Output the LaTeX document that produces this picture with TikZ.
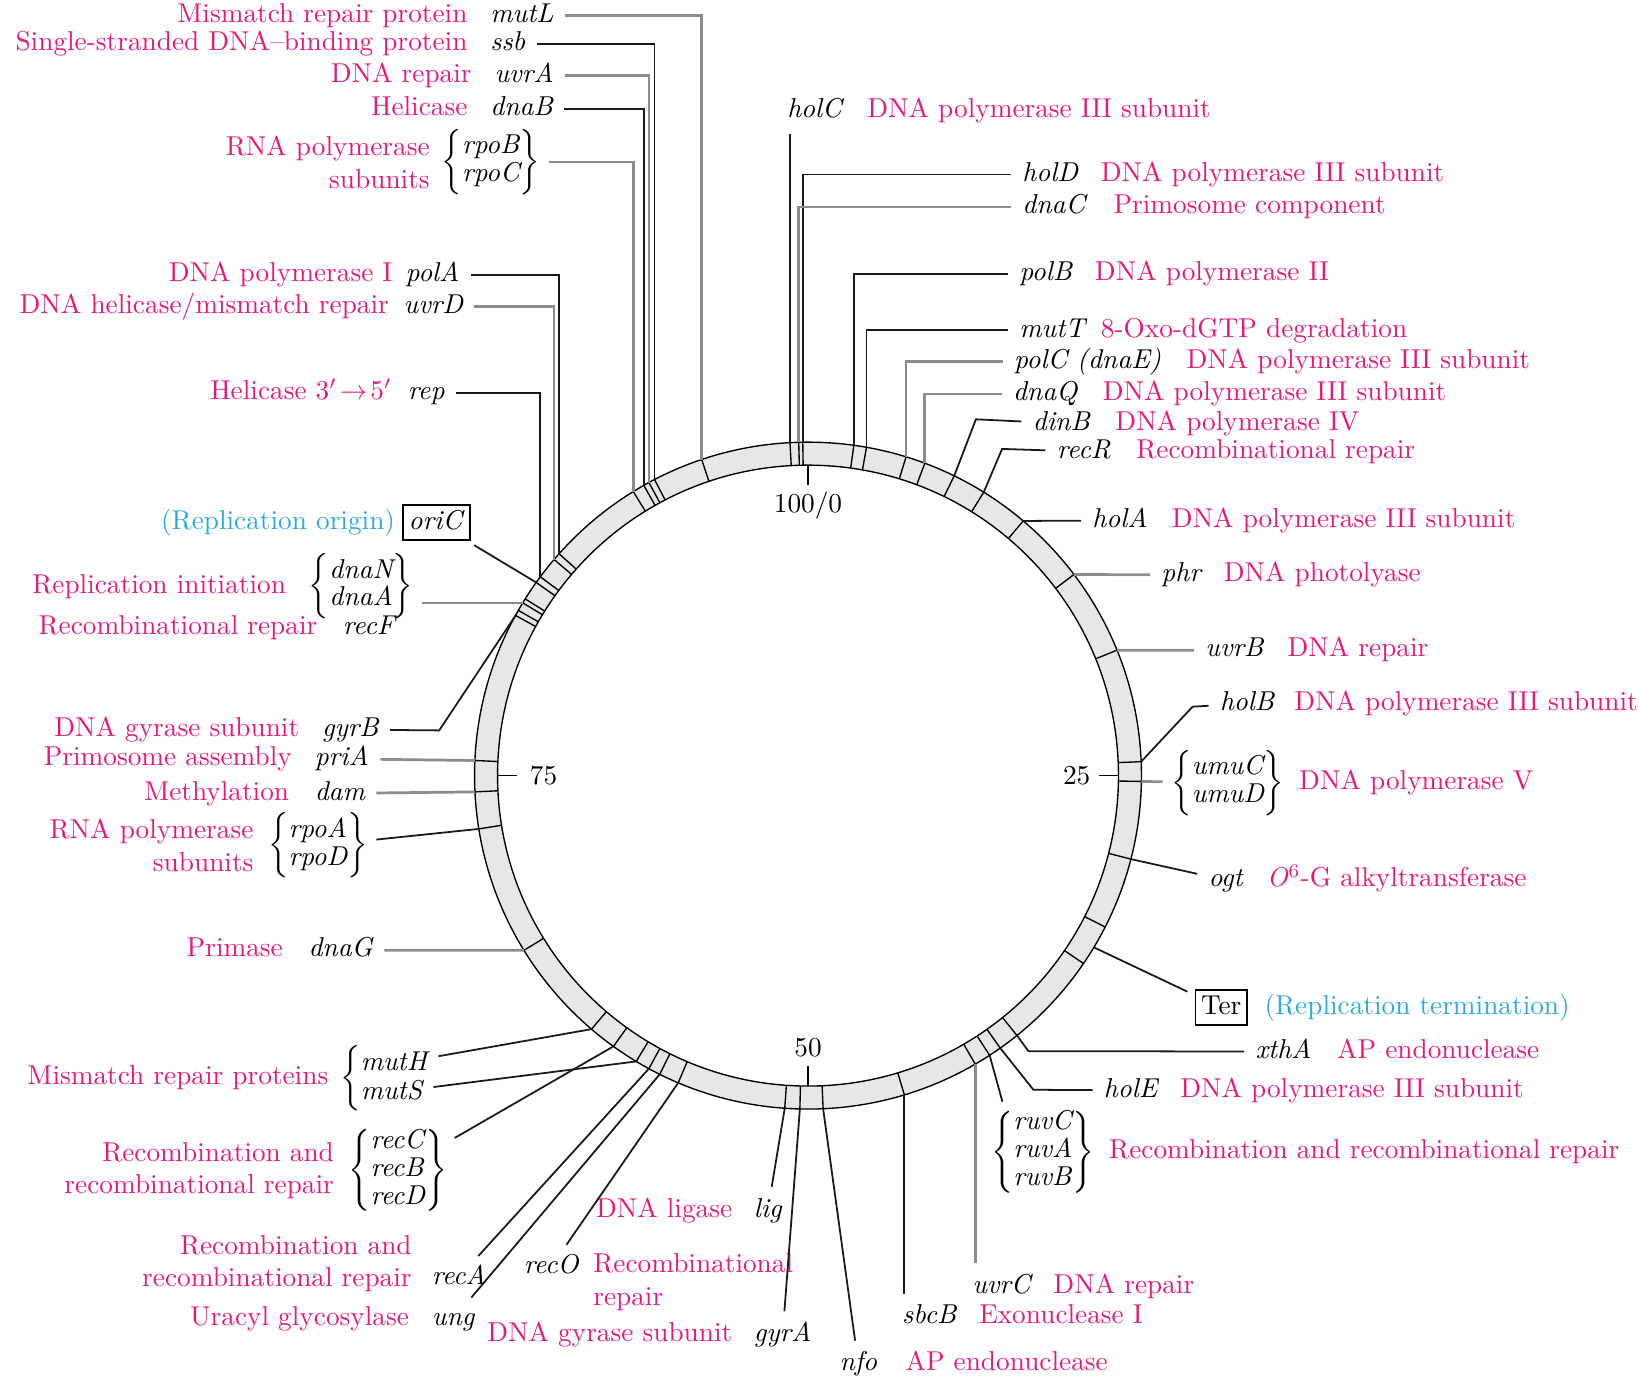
\documentclass[tikz,border=0pt]{standalone}
\usepackage{amsmath,amssymb}
\usepackage{tikz}
\usetikzlibrary{positioning}

\definecolor{genepink}{RGB}{233,22,123}
\definecolor{oricyan}{RGB}{41,170,225}
\definecolor{ringgray}{RGB}{230,231,232}
\renewcommand{\arraystretch}{0.85}
\newcommand{\genelist}[1]{$\left\{\begin{array}{@{}l@{}}#1\end{array}\right\}$}

\begin{document}
\begin{tikzpicture}[x=0.383pt, y=-0.383pt,
    gene/.style={font=\itshape, inner sep=1pt, text height=1.6ex, text depth=.45ex},
    desc/.style={text=genepink, inner sep=1pt, text height=1.6ex, text depth=.45ex},
    desctwo/.style={text=genepink, inner sep=1pt, align=right},
    note/.style={text=oricyan, inner sep=1pt, text height=1.6ex, text depth=.45ex},
    glist/.style={inner sep=0pt},
    site/.style={draw, line width=0.6pt, inner sep=2pt, text height=1.6ex, text depth=.45ex},
    cut/.style={line width=0.5pt},
    lead/.style={line width=0.65pt, black!90, shorten >=3pt},
    leadg/.style={line width=1pt, black!45, shorten >=3pt}]
  \useasboundingbox (0,0) rectangle (1568,1323);

  % chromosome ring
  \coordinate (c) at (773,742);
  \begin{scope}[shift={(c)}]
    \fill[ringgray, even odd rule] (0,0) circle[radius=319] (0,0) circle[radius=297];
    \draw[cut] (0,0) circle[radius=319] (0,0) circle[radius=297];
    % map minutes
    \foreach \a in {-90,0,90,180}
      \draw[cut] (\a:297) -- (\a:278);
    \node (m0) at (-90:258) {100/0};
    \node (m25) at (0:257) {25};
    \node (m50) at (90:260) {50};
    \node (m75) at (180:253) {75};
    % gene sites
    \foreach \g/\a in {mutL/-108.6, ssb/-117.4, uvrA/-118.5, dnaB/-119.5, rpoBC/-121.6,
        polA/-138.3, uvrD/-139.6, rep/-143.4, oriC/-144.6, dnaN/-148.0, dnaA/-148.8,
        recF/-150.3, gyrB/-151.3, priA/-177.4, dam/-182.8, rpoAD/-189.2, dnaG/-211.6,
        mutH/-229.5, recCBD/-234.3, mutS/-239.0, recA/-241.5, ung/-243.6, recO/-247.1,
        lig/-266.0, gyrA/-268.6, nfo/87.4, sbcB/73.2, uvrC/59.9, ruv/57.0, holE/54.8,
        xthA/51.2, ogt/14.5, umu/1.0, holB/-2.4, uvrB/-22.1, phr/-37.1, holA/-49.8,
        recR/-58.2, dinB/-64.0, dnaQ/-69.5, polC/-72.9, mutT/-79.9, polB/-82.1,
        holD/-90.9, dnaC/-91.6, holC/-93.1} {
      \draw[cut] (\a:297) -- (\a:319);
      \coordinate (r-\g) at (\a:319);
    }
    % terminus region
    \draw[cut] (27:297) -- (27:319);
    \draw[cut] (34.3:297) -- (34.3:319);
    \coordinate (r-Ter) at (31:319);
  \end{scope}

  % left, top
  \node[gene, anchor=west] (g-mutL) at (466,15) {mutL};
  \node[desc, left=6pt of g-mutL] (d-mutL) {Mismatch repair protein};
  \node[gene, anchor=west] (g-ssb) at (466,42) {ssb};
  \node[desc, anchor=east] (d-ssb) at (d-mutL.east |- g-ssb) {Single-stranded DNA--binding protein};
  \node[gene, anchor=west] (g-uvrA) at (470,72) {uvrA};
  \node[desc, left=6pt of g-uvrA] (d-uvrA) {DNA repair};
  \node[gene, anchor=west] (g-dnaB) at (466,104) {dnaB};
  \node[desc, left=6pt of g-dnaB] (d-dnaB) {Helicase};
  \node[glist, anchor=west] (g-rpoBC) at (422,155) {\genelist{\textit{rpoB}\\\textit{rpoC}}};
  \node[desctwo, left=3pt of g-rpoBC] (d-rpoBC) {RNA polymerase\\subunits};

  \node[gene, anchor=west] (g-polA) at (385,263) {polA};
  \node[desc, left=2.5pt of g-polA] (d-polA) {DNA polymerase I};
  \node[gene, anchor=west] (g-uvrD) at (383,293) {uvrD};
  \node[desc, left=3pt of g-uvrD] (d-uvrD) {DNA helicase/mismatch repair};
  \node[gene, anchor=west] (g-rep) at (387,376) {rep};
  \node[desc, left=3.5pt of g-rep] (d-rep) {Helicase $3'\!\rightarrow\!5'$};

  % left, origin region
  \node[site, anchor=west] (g-oriC) at (385,500) {\textit{oriC}};
  \node[note, left=1.5pt of g-oriC] (d-oriC) {(Replication origin)};
  \node[glist, anchor=west] (g-dnaNA) at (295,561) {\genelist{\textit{dnaN}\\\textit{dnaA}}};
  \node[desc, left=7pt of g-dnaNA] (d-dnaNA) {Replication initiation};
  \node[gene, anchor=west] (g-recF) at (325,601) {recF};
  \node[desc, left=7pt of g-recF] (d-recF) {Recombinational repair};
  \node[gene, anchor=west] (g-gyrB) at (305,698) {gyrB};
  \node[desc, left=6pt of g-gyrB] (d-gyrB) {DNA gyrase subunit};
  \node[gene, anchor=west] (g-priA) at (298,726) {priA};
  \node[desc, left=6pt of g-priA] (d-priA) {Primosome assembly};
  \node[gene, anchor=west] (g-dam) at (298,759) {dam};
  \node[desc, left=7pt of g-dam] (d-dam) {Methylation};
  \node[glist, anchor=west] (g-rpoAD) at (256,809) {\genelist{\textit{rpoA}\\\textit{rpoD}}};
  \node[desctwo, left=4pt of g-rpoAD] (d-rpoAD) {RNA polymerase\\subunits};
  \node[gene, anchor=west] (g-dnaG) at (292,909) {dnaG};
  \node[desc, left=7pt of g-dnaG] (d-dnaG) {Primase};

  % left, bottom
  \node[glist, anchor=west] (b-mutHS) at (325,1031) {$\left\{\vphantom{\begin{array}{c}X\\X\end{array}}\right.$};
  \node[desc, left=3pt of b-mutHS] (d-mutHS) {Mismatch repair proteins};
  \node[gene, anchor=west] (g-mutH) at (342,1018) {mutH};
  \node[gene, anchor=west] (g-mutS) at (342,1045) {mutS};
  \node[glist, anchor=west] (g-recCBD) at (333,1120) {\genelist{\textit{recC}\\\textit{recB}\\\textit{recD}}};
  \node[desctwo, left=4pt of g-recCBD] (d-recCBD) {Recombination and\\recombinational repair};
  \node[gene, anchor=west] (g-recA) at (410,1222) {recA};
  \node[desctwo, left=5pt of g-recA, yshift=5pt] (d-recA) {Recombination and\\recombinational repair};
  \node[gene, anchor=west] (g-ung) at (410,1262) {ung};
  \node[desc, left=6pt of g-ung] (d-ung) {Uracyl glycosylase};
  \node[gene, anchor=west] (g-recO) at (498,1212) {recO};
  \node[desctwo, align=left, right=3pt of g-recO, yshift=-5.5pt] (d-recO) {Recombinational\\repair};
  \node[gene, anchor=west] (g-lig) at (718,1158) {lig};
  \node[desc, left=5.5pt of g-lig] (d-lig) {DNA ligase};
  \node[gene, anchor=west] (g-gyrA) at (718,1277) {gyrA};
  \node[desc, left=5.5pt of g-gyrA] (d-gyrA) {DNA gyrase subunit};
  \node[gene, anchor=west] (g-nfo) at (800,1305) {nfo};
  \node[desc, right=8pt of g-nfo] (d-nfo) {AP endonuclease};

  % right, top
  \node[gene, anchor=west] (g-holC) at (750,106) {holC};
  \node[desc, right=7pt of g-holC] (d-holC) {DNA polymerase III subunit};
  \node[gene, anchor=west] (g-holD) at (975,167) {holD};
  \node[desc, right=6pt of g-holD] (d-holD) {DNA polymerase III subunit};
  \node[gene, anchor=west] (g-dnaC) at (975,198) {dnaC};
  \node[desc, right=8pt of g-dnaC] (d-dnaC) {Primosome component};
  \node[gene, anchor=west] (g-polB) at (972,262) {polB};
  \node[desc, right=6pt of g-polB] (d-polB) {DNA polymerase II};
  \node[gene, anchor=west] (g-mutT) at (972,316) {mutT};
  \node[desc, right=3.5pt of g-mutT] (d-mutT) {8-Oxo-dGTP degradation};
  \node[gene, anchor=west] (g-polC) at (967,346) {polC (dnaE)};
  \node[desc, right=7pt of g-polC] (d-polC) {DNA polymerase III subunit};
  \node[gene, anchor=west] (g-dnaQ) at (966,377) {dnaQ};
  \node[desc, right=7pt of g-dnaQ] (d-dnaQ) {DNA polymerase III subunit};
  \node[gene, anchor=west] (g-dinB) at (985,405) {dinB};
  \node[desc, right=7pt of g-dinB] (d-dinB) {DNA polymerase IV};
  \node[gene, anchor=west] (g-recR) at (1008,432) {recR};
  \node[desc, right=7pt of g-recR] (d-recR) {Recombinational repair};

  % right, middle
  \node[gene, anchor=west] (g-holA) at (1042,498) {holA};
  \node[desc, right=6.5pt of g-holA] (d-holA) {DNA polymerase III subunit};
  \node[gene, anchor=west] (g-phr) at (1108,550) {phr};
  \node[desc, right=6pt of g-phr] (d-phr) {DNA photolyase};
  \node[gene, anchor=west] (g-uvrB) at (1150,622) {uvrB};
  \node[desc, right=6.5pt of g-uvrB] (d-uvrB) {DNA repair};
  \node[gene, anchor=west] (g-holB) at (1164,673) {holB};
  \node[desc, right=5pt of g-holB] (d-holB) {DNA polymerase III subunit};
  \node[glist, anchor=west] (g-umu) at (1120,749) {\genelist{\textit{umuC}\\\textit{umuD}}};
  \node[desc, right=4pt of g-umu] (d-umu) {DNA polymerase V};
  \node[gene, anchor=west] (g-ogt) at (1153,842) {ogt};
  \node[desc, right=6.5pt of g-ogt] (d-ogt) {\textit{O}\textsuperscript{6}-G alkyltransferase};

  % right, bottom
  \node[site, anchor=west] (g-Ter) at (1143,964) {Ter};
  \node[note, right=5pt of g-Ter] (d-Ter) {(Replication termination)};
  \node[gene, anchor=west] (g-xthA) at (1198,1006) {xthA};
  \node[desc, right=7pt of g-xthA] (d-xthA) {AP endonuclease};
  \node[gene, anchor=west] (g-holE) at (1053,1043) {holE};
  \node[desc, right=6pt of g-holE] (d-holE) {DNA polymerase III subunit};
  \node[glist, anchor=west] (g-ruv) at (948,1102) {\genelist{\textit{ruvC}\\\textit{ruvA}\\\textit{ruvB}}};
  \node[desc, right=4pt of g-ruv] (d-ruv) {Recombination and recombinational repair};
  \node[gene, anchor=west] (g-uvrC) at (927,1231) {uvrC};
  \node[desc, right=6pt of g-uvrC] (d-uvrC) {DNA repair};
  \node[gene, anchor=west] (g-sbcB) at (860,1260) {sbcB};
  \node[desc, right=6pt of g-sbcB] (d-sbcB) {Exonuclease I};

  % leaders, left
  \draw[leadg] (r-mutL) |- (g-mutL);
  \draw[lead] (r-ssb) |- (g-ssb);
  \draw[leadg] (r-uvrA) |- (g-uvrA);
  \draw[lead] (r-dnaB) |- (g-dnaB);
  \draw[leadg] (r-rpoBC) |- (g-rpoBC);
  \draw[lead] (r-polA) |- (g-polA);
  \draw[leadg] (r-uvrD) |- (g-uvrD);
  \draw[lead] (r-rep) |- (g-rep);
  \draw[lead] (r-oriC) -- (g-oriC);
  \draw[leadg] (r-dnaA) -- (r-dnaA -| g-dnaNA.east);
  \draw[lead] (r-gyrB) -- ++(123.6:132) -- (g-gyrB);
  \draw[leadg] (r-priA) -- (g-priA);
  \draw[leadg] (r-dam) -- (g-dam);
  \draw[lead] (r-rpoAD) -- (g-rpoAD);
  \draw[leadg] (r-dnaG) -- (g-dnaG);
  \draw[lead] (r-mutH) -- (g-mutH);
  \draw[lead] (r-mutS) -- (g-mutS);
  \draw[lead] (r-recCBD) -- (g-recCBD);
  \draw[lead] (r-recA) -- (g-recA);
  \draw[lead] (r-ung) -- (g-ung);
  \draw[lead] (r-recO) -- (g-recO);
  \draw[lead] (r-lig) -- (g-lig);
  \draw[lead] (r-gyrA) -- (g-gyrA);
  \draw[lead] (r-nfo) -- (g-nfo);

  % leaders, right
  \draw[lead, thin] (r-holC) -- (r-holC |- g-holC.south);
  \draw[lead] (r-holD) |- (g-holD);
  \draw[leadg] (r-dnaC) |- (g-dnaC);
  \draw[lead] (r-polB) |- (g-polB);
  \draw[lead] (r-mutT) |- (g-mutT);
  \draw[leadg] (r-polC) |- (g-polC);
  \draw[leadg] (r-dnaQ) |- (g-dnaQ);
  \draw[lead] (r-dinB) -- ++(-69:58) -- (g-dinB);
  \draw[lead] (r-recR) -- ++(-67:45) -- (g-recR);
  \draw[lead] (r-holA) -- (g-holA);
  \draw[leadg] (r-phr) -- (g-phr);
  \draw[leadg] (r-uvrB) -- (g-uvrB);
  \draw[lead] (r-holB) -- ++(-46.9:72) -- (g-holB);
  \draw[leadg] (r-umu) -- (g-umu);
  \draw[lead] (r-ogt) -- (g-ogt);
  \draw[lead] (r-Ter) -- (g-Ter);
  \draw[lead] (r-xthA) -- ++(53.7:18.6) -- (g-xthA);
  \draw[lead] (r-holE) -- ++(51.5:51) -- (g-holE);
  \draw[lead] (r-ruv) -- ([xshift=5pt]g-ruv.north west);
  \draw[leadg] (r-uvrC) -- (r-uvrC |- g-uvrC.north);
  \draw[lead] (r-sbcB) -- (r-sbcB |- g-sbcB.north);
\end{tikzpicture}
\end{document}
